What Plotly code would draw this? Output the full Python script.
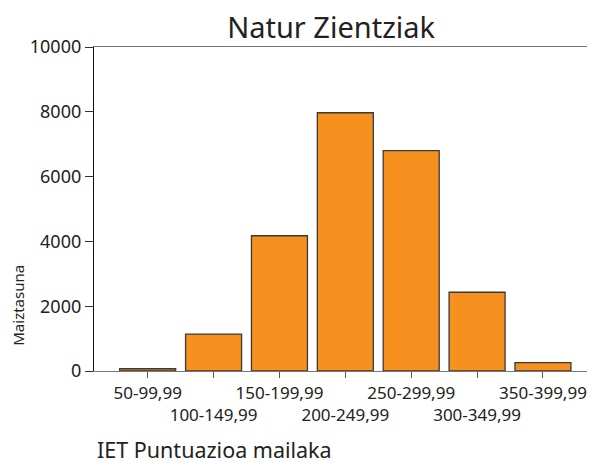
import plotly.graph_objects as go

categories = ["50-99,99", "100-149,99", "150-199,99", "200-249,99",
              "250-299,99", "300-349,99", "350-399,99"]
frequencies = [70, 1140, 4175, 7970, 6800, 2430, 256]
y_ticks = [0, 2000, 4000, 6000, 8000, 10000]

tick_text = [c if i % 2 == 0 else "<br>" + c for i, c in enumerate(categories)]

FONT = "Noto Sans"

fig = go.Figure(go.Bar(
    x=list(range(len(categories))),
    y=frequencies,
    marker=dict(color="#F6901E", line=dict(color="#3a3a3a", width=1.3)),
    width=0.85,
))

fig.update_layout(
    width=595, height=463,
    margin=dict(l=86, r=8, t=39, b=100, autoexpand=False),
    paper_bgcolor="white", plot_bgcolor="white",
    showlegend=False,
    title=dict(text="Natur Zientziak", x=0.543, xanchor="center",
               y=0.957, yanchor="middle",
               font=dict(family=FONT, size=29, color="#222222")),
    font=dict(family=FONT, color="#222222"),
)
fig.update_xaxes(
    range=[-0.815, 6.79], automargin=False, tickangle=0,
    tickmode="array", tickvals=list(range(len(categories))), ticktext=tick_text,
    tickfont=dict(size=17, family=FONT, color="#222222"),
    showline=True, linecolor="#777777", linewidth=1.3, mirror=True,
    ticks="outside", ticklen=6, tickcolor="#555555", tickwidth=1,
    showgrid=False, zeroline=False,
)
fig.update_yaxes(
    range=[0, 10000], automargin=False,
    tickmode="array", tickvals=y_ticks, ticktext=[str(v) for v in y_ticks],
    tickfont=dict(size=18, family=FONT, color="#222222"),
    showline=True, linecolor="#111111", linewidth=1.3,
    ticks="outside", ticklen=8, tickcolor="#333333", tickwidth=1,
    showgrid=False, zeroline=False,
)
fig.add_annotation(text="IET Puntuazioa mailaka", xref="paper", yref="paper",
                   x=0.002, y=-0.243, xanchor="left", yanchor="middle",
                   showarrow=False, font=dict(family=FONT, size=21.5, color="#222222"))
fig.add_annotation(text="Maiztasuna", xref="paper", yref="paper",
                   x=-0.152, y=0.204, xanchor="center", yanchor="middle",
                   textangle=-90, showarrow=False,
                   font=dict(family=FONT, size=15, color="#222222"))

fig.write_html("out.html")
